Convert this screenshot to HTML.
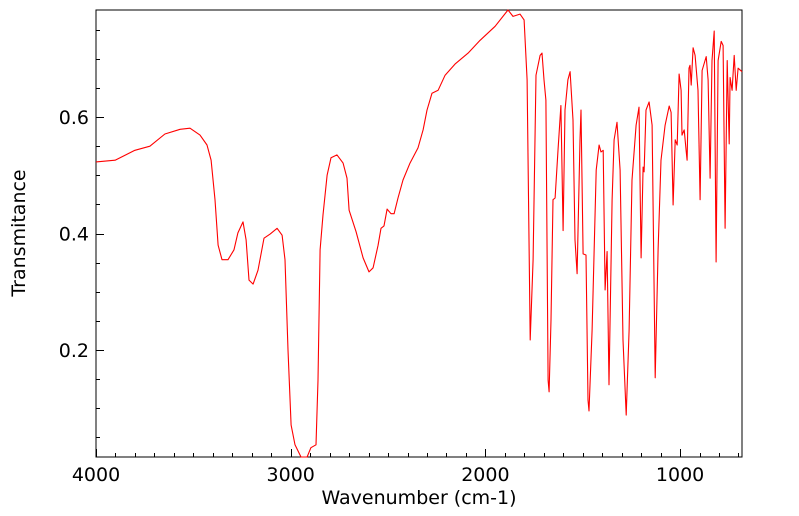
<!DOCTYPE html>
<html><head><meta charset="utf-8"><style>
html,body{margin:0;padding:0;background:#fff;}
svg{display:block;font-family:"DejaVu Sans","Liberation Sans",sans-serif;}
</style></head><body>
<svg id="chart" width="799" height="516" viewBox="0 0 799 516" xmlns="http://www.w3.org/2000/svg">
<rect x="96" y="10" width="646" height="447" fill="none" stroke="#000" stroke-width="1"/>
<g id="ticks"></g>
<path id="line" fill="none" stroke="#ff0000" stroke-width="1.1" stroke-linejoin="round"/>
<text x="419" y="504" font-size="19" text-anchor="middle">Wavenumber (cm-1)</text>
<text transform="translate(25,233) rotate(-90)" font-size="19" text-anchor="middle">Transmitance</text>
</svg>
<script>
const wavenumbers=[4000,3902,3800,3723,3646,3568,3517,3466,3430,3409,3389,3373,3353,3322,3291,3271,3245,3229,3214,3193,3168,3137,3106,3070,3044,3029,3014,2998,2978,2947,2916,2896,2870,2860,2849,2834,2813,2793,2762,2731,2711,2700,2664,2628,2598,2577,2551,2536,2521,2505,2485,2469,2449,2423,2387,2346,2320,2300,2274,2243,2207,2156,2089,2027,1950,1884,1858,1822,1801,1786,1770,1755,1740,1719,1709,1699,1689,1678,1673,1663,1653,1642,1627,1612,1601,1591,1576,1565,1550,1540,1529,1514,1509,1498,1483,1473,1468,1452,1431,1416,1406,1395,1385,1375,1365,1349,1339,1324,1308,1293,1277,1262,1247,1226,1211,1200,1190,1185,1175,1159,1144,1128,1113,1098,1077,1056,1046,1036,1025,1015,1005,995,990,979,969,964,954,949,943,933,923,908,897,887,866,856,846,836,825,815,805,789,779,769,758,748,743,733,722,712,702,682];
const transmittance=[0.523,0.526,0.543,0.550,0.571,0.579,0.581,0.569,0.552,0.526,0.458,0.380,0.355,0.355,0.372,0.401,0.420,0.389,0.320,0.313,0.337,0.392,0.399,0.409,0.397,0.355,0.200,0.071,0.037,0.016,0.016,0.032,0.037,0.148,0.372,0.432,0.500,0.530,0.535,0.521,0.495,0.440,0.403,0.358,0.334,0.341,0.380,0.409,0.413,0.442,0.434,0.434,0.461,0.492,0.521,0.547,0.578,0.612,0.641,0.646,0.672,0.691,0.710,0.732,0.756,0.784,0.773,0.777,0.767,0.664,0.217,0.355,0.672,0.706,0.710,0.664,0.629,0.148,0.128,0.251,0.458,0.461,0.543,0.620,0.405,0.612,0.664,0.678,0.595,0.389,0.331,0.561,0.612,0.365,0.363,0.114,0.095,0.234,0.509,0.552,0.540,0.543,0.303,0.369,0.140,0.458,0.561,0.591,0.509,0.217,0.088,0.234,0.492,0.586,0.617,0.358,0.514,0.506,0.612,0.626,0.586,0.152,0.372,0.526,0.586,0.619,0.608,0.449,0.561,0.552,0.674,0.646,0.569,0.578,0.543,0.526,0.684,0.689,0.655,0.719,0.706,0.646,0.458,0.680,0.704,0.664,0.495,0.697,0.748,0.351,0.697,0.730,0.723,0.409,0.697,0.554,0.668,0.646,0.706,0.646,0.684,0.678];
const xTickLabels=[4000,3000,2000,1000];
const yTickLabels=[0.2,0.4,0.6];

const X0=96,X1=742,Y0=10,Y1=457;
const xMax=4000,xMin=682,yMin=0.016,yMax=0.784;
function sx(w){return X0+(xMax-w)/(xMax-xMin)*(X1-X0);}
function sy(t){return Y1-(t-yMin)/(yMax-yMin)*(Y1-Y0);}

const NS="http://www.w3.org/2000/svg";
let d="";
for(let i=0;i<wavenumbers.length;i++){d+=(i?"L":"M")+sx(wavenumbers[i]).toFixed(1)+","+sy(transmittance[i]).toFixed(1);}
document.getElementById("line").setAttribute("d",d);

const g=document.getElementById("ticks");
function ln(x1,y1,x2,y2){const l=document.createElementNS(NS,"line");
l.setAttribute("x1",x1);l.setAttribute("y1",y1);l.setAttribute("x2",x2);l.setAttribute("y2",y2);
l.setAttribute("stroke","#000");l.setAttribute("stroke-width","1");


g.appendChild(l);}
for(let w=4000;w>=xMin;w-=100){const x=Math.round(sx(w))+0.5;const major=(w%1000===0);ln(x,Y1,x,Y1-(major?8:4));}
for(let t=0.05;t<yMax;t+=0.05){const y=Math.round(sy(t))+0.5;const major=Math.abs(t*10-Math.round(t*10))<1e-6&&Math.round(t*10)%2===0;ln(X0,y,X0+(major?8:4),y);}
xTickLabels.forEach(w=>{const t=document.createElementNS(NS,"text");
t.setAttribute("x",sx(w));t.setAttribute("y",481);t.setAttribute("font-size","19");t.setAttribute("text-anchor","middle");
t.textContent=w;


g.appendChild(t);});
yTickLabels.forEach(v=>{const t=document.createElementNS(NS,"text");
t.setAttribute("x",89);t.setAttribute("y",sy(v)+7);t.setAttribute("font-size","19");t.setAttribute("text-anchor","end");
t.textContent=v.toFixed(1);


g.appendChild(t);});
</script>
</body></html>
